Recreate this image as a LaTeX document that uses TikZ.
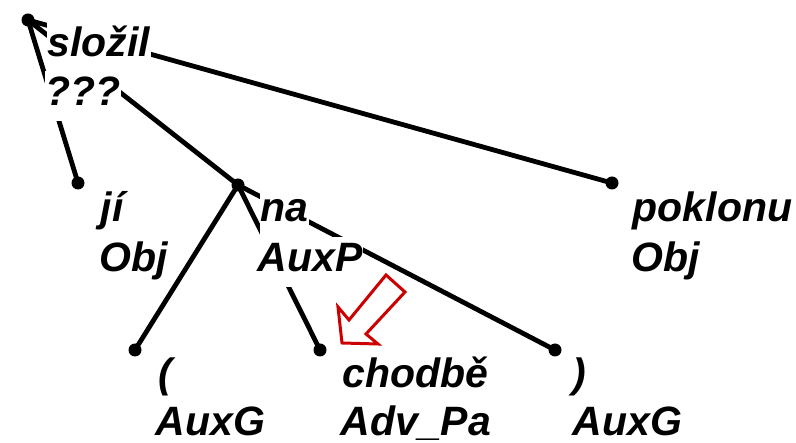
\documentclass[tikz,border=0pt]{standalone}
\usepackage{fontspec}
\setmainfont{Liberation Sans}
\pgfdeclarelayer{bg}
\pgfsetlayers{bg,main}
\definecolor{arrowred}{RGB}{204,0,0}
\tikzset{
  dot/.style={circle,fill=black,inner sep=0pt,minimum size=13pt},
  lbl/.style={anchor=base west,fill=white,inner sep=0.5pt,font=\fontsize{41}{49}\bfseries\itshape\selectfont},
  edge/.style={line width=4.8pt,black},
}
\begin{document}
\begin{tikzpicture}[x=1pt,y=-1pt]
\useasboundingbox (0,0) rectangle (796,443);
% dots
\node[dot] (r) at (28,20) {};
\node[dot] (ji) at (78,183) {};
\node[dot] (na) at (238,185) {};
\node[dot] (pk) at (612,183) {};
\node[dot] (lp) at (135,350) {};
\node[dot] (ch) at (320,350) {};
\node[dot] (rp) at (555,350) {};
% edges
\begin{pgfonlayer}{bg}
\draw[edge] (r.center) -- (ji.center);
\draw[edge] (r.center) -- (na.center);
\draw[edge] (r.center) -- (pk.center);
\draw[edge] (na.center) -- (lp.center);
\draw[edge] (na.center) -- (ch.center);
\draw[edge] (na.center) -- (rp.center);
\end{pgfonlayer}
% labels
\node[lbl] (ra) at (47,57) {\strut složil};
\node[lbl] (rb) at (45,106) {\strut ???};
\node[lbl] (jia) at (100,222) {\strut jí};
\node[lbl] (jib) at (99,272) {\strut Obj};
\node[lbl] (naa) at (260,222) {\strut na};
\node[lbl] (nab) at (257,272) {\strut AuxP};
\node[lbl] (pka) at (632,222) {\strut poklonu};
\node[lbl] (pkb) at (631,272) {\strut Obj};
\node[lbl] (lpa) at (158,388) {\strut (};
\node[lbl] (lpb) at (155,436) {\strut AuxG};
\node[lbl] (cha) at (342,388) {\strut chodbě};
\node[lbl] (chb) at (340,436) {\strut Adv\_Pa};
\node[lbl] (rpa) at (572,388) {\strut )};
\node[lbl] (rpb) at (572,436) {\strut AuxG};
% red hollow arrow
\draw[arrowred,line width=3pt,line join=miter]
  (342,343) -- (338,307) -- (349,320) -- (386,275) -- (405,292)
  -- (366,334) -- (378,344) -- cycle;
\end{tikzpicture}
\end{document}
